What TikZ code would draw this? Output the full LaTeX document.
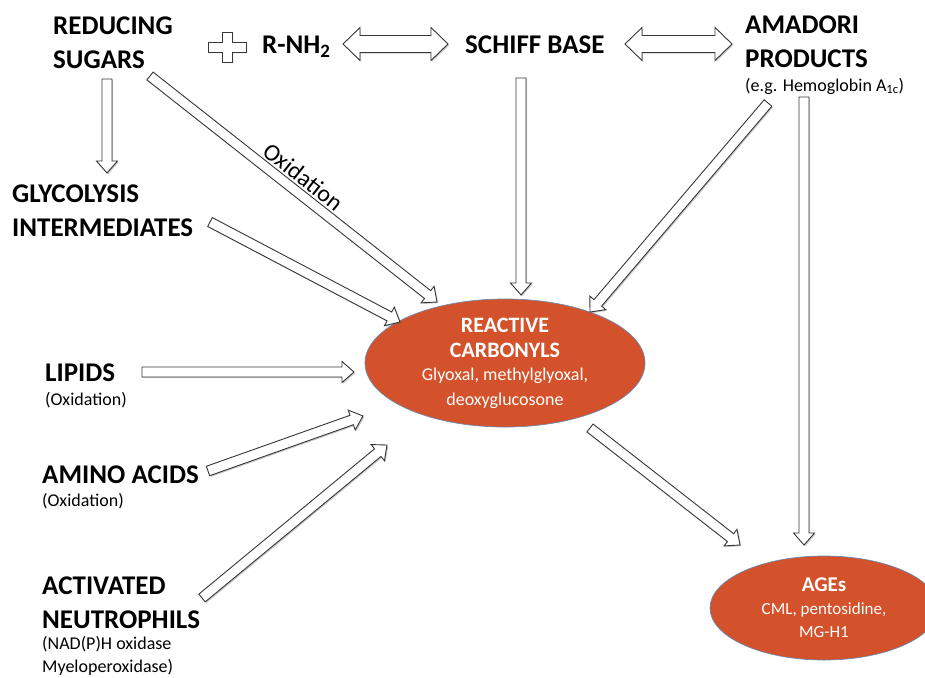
\documentclass[tikz,border=0pt]{standalone}
\usepackage{fontspec}
\setmainfont{Carlito}
\usetikzlibrary{calc,shapes.geometric,shadows}
\definecolor{ageorange}{RGB}{212,82,43}
\definecolor{ageedge}{RGB}{110,135,175}
\definecolor{arrowedge}{RGB}{55,55,55}
\tikzset{
  blockarrowstyle/.style={draw=arrowedge,fill=white,line width=0.9pt,line join=miter,
    drop shadow={shadow xshift=1.2pt,shadow yshift=-1.2pt,opacity=0.35,fill=black!60}},
  biglabel/.style={anchor=west,align=left,inner sep=0pt,font=\fontsize{27}{34}\selectfont\bfseries},
  smalllabel/.style={anchor=west,align=left,inner sep=0pt,font=\fontsize{18}{23}\selectfont},
  blob/.style={ellipse,fill=ageorange,draw=ageedge,line width=0.7pt,text=white,align=center,inner sep=0pt},
}
\newcommand\blockarrow[2]{%
  \path ($(#2)!12pt!(#1)$) coordinate (bah);
  \draw[blockarrowstyle] ($(#1)!5pt!90:(#2)$) -- ($(bah)!5pt!-90:(#1)$) -- ($(bah)!10.5pt!-90:(#1)$) -- (#2)
    -- ($(bah)!10.5pt!90:(#1)$) -- ($(bah)!5pt!90:(#1)$) -- ($(#1)!5pt!-90:(#2)$) -- cycle;
}
\newcommand\dblarrow[2]{%
  \path ($(#1)!17pt!(#2)$) coordinate (daa) ($(#2)!17pt!(#1)$) coordinate (dab);
  \draw[blockarrowstyle] (#1) -- ($(daa)!16.5pt!90:(#2)$) -- ($(daa)!8.5pt!90:(#2)$) -- ($(dab)!8.5pt!-90:(#1)$)
    -- ($(dab)!16.5pt!-90:(#1)$) -- (#2) -- ($(dab)!16.5pt!90:(#1)$) -- ($(dab)!8.5pt!90:(#1)$)
    -- ($(daa)!8.5pt!-90:(#2)$) -- ($(daa)!16.5pt!-90:(#2)$) -- cycle;
}
\begin{document}
\begin{tikzpicture}[x=1pt,y=-1pt]
\useasboundingbox[fill=white] (0,0) rectangle (925,677);

% text nodes
\node[biglabel] (sugars) at (53,43) {REDUCING\\SUGARS};
\node[biglabel] (rnh) at (262,47) {R-NH\textsubscript{2}};
\node[biglabel] (schiff) at (465,45) {SCHIFF BASE};
\node[biglabel] (amadori) at (745,41.5) {AMADORI\\PRODUCTS};
\node[smalllabel] (amadorinote) at (745,86) {(e.g. Hemoglobin A\textsubscript{1c})};
\node[biglabel] (glyco) at (12,210.5) {GLYCOLYSIS\\INTERMEDIATES};
\node[biglabel] (lipids) at (45,373) {LIPIDS};
\node[smalllabel] (lipidsnote) at (45,400) {(Oxidation)};
\node[biglabel] (amino) at (42,475) {AMINO ACIDS};
\node[smalllabel] (aminonote) at (42,501) {(Oxidation)};
\node[biglabel] (neutro) at (42,603) {ACTIVATED\\NEUTROPHILS};
\node[smalllabel] (neutronote) at (42,656) {(NAD(P)H oxidase\\Myeloperoxidase)};

% ellipses
\node[blob,minimum width=280pt,minimum height=112pt,font=\fontsize{22}{25}\selectfont] (carbonyls) at (505,363)
  {\bfseries REACTIVE\\\bfseries CARBONYLS\\[-2pt]\fontsize{18}{23}\selectfont Glyoxal, methylglyoxal,\\\fontsize{18}{23}\selectfont deoxyglucosone};
\node[blob,minimum width=228pt,minimum height=104pt,font=\fontsize{21}{23}\selectfont] (ages) at (824,608)
  {\bfseries AGEs\\\fontsize{17}{21}\selectfont CML, pentosidine,\\\fontsize{17}{21}\selectfont MG-H1};

% plus sign
\draw[blockarrowstyle,shift={(227,47)}] (-5,-15) -- (5,-15) -- (5,-5) -- (19,-5) -- (19,5) -- (5,5)
  -- (5,15) -- (-5,15) -- (-5,5) -- (-19,5) -- (-19,-5) -- (-5,-5) -- cycle;

% arrow end points
\coordinate (a1s) at (107,79);   \coordinate (a1e) at (107,173);
\coordinate (a2s) at (150,76);   \coordinate (a2e) at (437,302);
\coordinate (a3s) at (210,222);  \coordinate (a3e) at (400,322);
\coordinate (a4s) at (521,78);   \coordinate (a4e) at (521,295);
\coordinate (a5s) at (768,103);  \coordinate (a5e) at (590,312);
\coordinate (a6s) at (804,97);   \coordinate (a6e) at (804,545);
\coordinate (a7s) at (142,372);  \coordinate (a7e) at (354,372);
\coordinate (a8s) at (208,471);  \coordinate (a8e) at (363,416);
\coordinate (a9s) at (202,598);  \coordinate (a9e) at (387,445);
\coordinate (a10s) at (590,428); \coordinate (a10e) at (740,545);
\coordinate (d1s) at (343,44);   \coordinate (d1e) at (448,44);
\coordinate (d2s) at (625,44);   \coordinate (d2e) at (732,44);

\blockarrow{a1s}{a1e}
\blockarrow{a2s}{a2e}
\blockarrow{a3s}{a3e}
\blockarrow{a4s}{a4e}
\blockarrow{a5s}{a5e}
\blockarrow{a6s}{a6e}
\blockarrow{a7s}{a7e}
\blockarrow{a8s}{a8e}
\blockarrow{a9s}{a9e}
\blockarrow{a10s}{a10e}
\dblarrow{d1s}{d1e}
\dblarrow{d2s}{d2e}

\path (a2s) -- (a2e) node[pos=0.5,sloped,above=7pt,inner sep=0pt,font=\fontsize{24}{26}\selectfont] (oxlabel) {Oxidation};
\end{tikzpicture}
\end{document}
